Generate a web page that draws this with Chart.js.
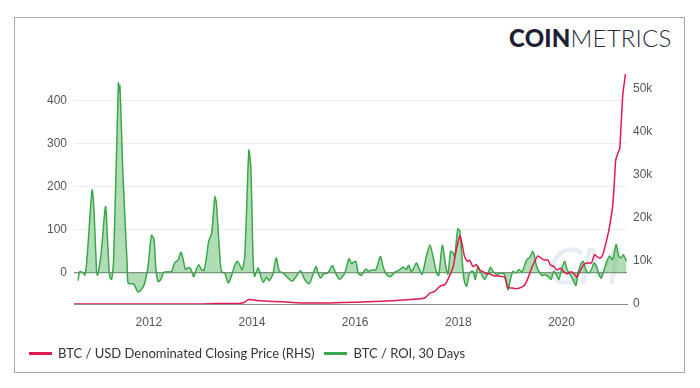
<!DOCTYPE html>
<html>
<head>
<meta charset="utf-8">
<script src="https://cdn.jsdelivr.net/npm/chart.js@4.4.1/dist/chart.umd.min.js"></script>
<style>
    body { margin: 0; background: #fff; }
    #wrap { position: relative; width: 700px; height: 388px; overflow: hidden; }
    #frame { position: absolute; left: 14px; top: 17px; width: 669px; height: 354px; border: 1.5px solid #a8a8a8; }
    #logo { position: absolute; left: 509px; top: 23px; font-family: Lato, sans-serif; font-size: 24px; color: #1d2030; letter-spacing: 0.2px; }
    #logo b { font-weight: 900; }
    #logo span { font-weight: 300; color: #2a2d3a; }
    #mark { position: absolute; left: 548px; top: 238px; font-family: "DejaVu Sans", sans-serif; font-size: 50px; font-style: italic; color: rgba(190, 200, 220, 0.35); letter-spacing: -4px; }
    #chart { position: absolute; left: 0; top: 0; }
    #legend { position: absolute; left: 29px; top: 345px; font-family: Lato, sans-serif; font-size: 13px; color: #333; display: flex; }
    #legend .item { display: flex; align-items: center; margin-right: 10px; }
    #legend .line { width: 23px; height: 3px; margin-right: 6px; }
</style>
</head>
<body>
<div id="wrap">
    <div id="frame"></div>
    <div id="logo"><b>COIN</b><span>METRICS</span></div>
    <div id="mark">CM</div>
    <canvas id="chart" width="700" height="388"></canvas>
    <div id="legend"></div>
</div>
<script>
    // BTC / USD closing price (right axis), x in decimal years
    let priceYears = [2010.55, 2011.0, 2011.45, 2012.0, 2012.5, 2013.0, 2013.3, 2013.5, 2013.75, 2013.86, 2013.93, 2014.09, 2014.41, 2014.75, 2015.0, 2015.5, 2016.0, 2016.5, 2016.93, 2017.2, 2017.35, 2017.45, 2017.54, 2017.64, 2017.74, 2017.81, 2017.90, 2017.96, 2018.03, 2018.07, 2018.12, 2018.18, 2018.22, 2018.28, 2018.35, 2018.41, 2018.48, 2018.54, 2018.61, 2018.67, 2018.74, 2018.84, 2018.90, 2018.96, 2019.03, 2019.13, 2019.22, 2019.29, 2019.35, 2019.42, 2019.48, 2019.54, 2019.61, 2019.67, 2019.74, 2019.78, 2019.85, 2019.91, 2019.98, 2020.04, 2020.11, 2020.19, 2020.26, 2020.30, 2020.37, 2020.43, 2020.49, 2020.58, 2020.64, 2020.69, 2020.75, 2020.80, 2020.87, 2020.93, 2020.99, 2021.02, 2021.05, 2021.10, 2021.13, 2021.16, 2021.19, 2021.24];
    let priceValues = [0.07, 0.3, 17, 5, 7, 13, 140, 100, 130, 400, 1050, 830, 600, 400, 260, 250, 430, 650, 900, 1150, 1400, 2500, 2900, 4100, 4500, 6000, 8700, 12500, 15800, 14100, 11000, 9800, 10200, 8700, 9100, 7900, 7500, 7000, 7000, 6600, 6500, 6400, 6200, 3850, 3700, 3550, 3850, 4450, 6000, 8300, 9850, 11150, 10600, 10200, 10200, 9100, 8700, 7900, 8300, 7500, 7000, 7500, 6800, 6200, 7900, 9100, 9500, 9500, 11400, 11000, 10600, 11400, 14500, 17900, 22500, 27200, 33300, 35200, 36000, 42600, 48700, 53300];

    // BTC ROI over 30 days (left axis)
    let roiYears = [2010.63, 2010.66, 2010.73, 2010.76, 2010.80, 2010.90, 2010.93, 2010.99, 2011.01, 2011.08, 2011.16, 2011.20, 2011.24, 2011.28, 2011.32, 2011.41, 2011.42, 2011.44, 2011.50, 2011.58, 2011.60, 2011.70, 2011.73, 2011.79, 2011.86, 2011.92, 2011.99, 2012.05, 2012.10, 2012.14, 2012.18, 2012.23, 2012.29, 2012.34, 2012.41, 2012.44, 2012.50, 2012.57, 2012.62, 2012.66, 2012.71, 2012.76, 2012.81, 2012.87, 2012.92, 2012.97, 2013.02, 2013.07, 2013.12, 2013.16, 2013.22, 2013.28, 2013.31, 2013.36, 2013.40, 2013.44, 2013.47, 2013.54, 2013.60, 2013.67, 2013.72, 2013.76, 2013.81, 2013.86, 2013.94, 2013.98, 2014.02, 2014.05, 2014.12, 2014.17, 2014.22, 2014.28, 2014.33, 2014.40, 2014.47, 2014.53, 2014.60, 2014.70, 2014.78, 2014.86, 2014.94, 2015.02, 2015.11, 2015.18, 2015.24, 2015.28, 2015.33, 2015.39, 2015.47, 2015.56, 2015.62, 2015.70, 2015.80, 2015.88, 2015.93, 2016.01, 2016.06, 2016.12, 2016.20, 2016.26, 2016.32, 2016.40, 2016.49, 2016.54, 2016.61, 2016.68, 2016.77, 2016.86, 2016.93, 2016.99, 2017.04, 2017.09, 2017.14, 2017.19, 2017.25, 2017.30, 2017.38, 2017.45, 2017.51, 2017.58, 2017.62, 2017.69, 2017.76, 2017.80, 2017.85, 2017.90, 2017.93, 2017.99, 2018.03, 2018.07, 2018.11, 2018.16, 2018.22, 2018.28, 2018.33, 2018.38, 2018.45, 2018.51, 2018.58, 2018.62, 2018.67, 2018.74, 2018.83, 2018.90, 2018.96, 2019.01, 2019.06, 2019.11, 2019.18, 2019.23, 2019.29, 2019.33, 2019.38, 2019.44, 2019.47, 2019.51, 2019.56, 2019.62, 2019.67, 2019.74, 2019.80, 2019.85, 2019.90, 2019.95, 2020.00, 2020.06, 2020.11, 2020.17, 2020.22, 2020.28, 2020.32, 2020.37, 2020.42, 2020.47, 2020.53, 2020.58, 2020.63, 2020.68, 2020.73, 2020.77, 2020.82, 2020.88, 2020.93, 2020.99, 2021.06, 2021.11, 2021.16, 2021.20, 2021.26];
    let roiValues = [-18, 3, 0, -5, 30, 192, 162, 0, -5, 50, 154, 77, -8, -15, 38, 440, 420, 435, 224, 22, -24, -25, -30, -44, -38, -24, 20, 87, 78, 6, -20, -16, 2, 2, 3, 2, 23, 30, 48, 35, 8, 12, 10, -9, 8, 19, 8, 6, 38, 73, 93, 176, 162, 69, 8, 0, 1, -23, -8, 19, 27, 19, 8, 38, 284, 239, 38, -8, 12, -8, -22, -10, -18, -5, 35, 4, 0, -12, -19, -8, 5, -15, -25, -4, 15, 0, -12, -2, 0, 17, 0, -15, 0, 33, 22, 27, 0, -6, 9, 4, 7, 7, 38, 15, -4, -9, 2, 7, 14, 8, 18, 2, 13, 23, 7, -3, 38, 65, 38, 0, -6, 64, 13, -3, 50, 46, 38, 102, 97, 38, -15, -31, 0, 4, -15, 15, -3, -15, 0, 13, 4, -4, 0, -4, -39, -15, 4, 0, 8, 2, 19, 31, 35, 50, 42, 19, 4, -6, -4, -8, -15, 4, -4, -15, 8, 27, 8, -4, -15, -29, 0, 19, 27, 8, 0, 8, 23, 15, -4, -12, 4, 27, 39, 31, 66, 39, 35, 42, 27];

    let yearTicks = [2012, 2014, 2016, 2018, 2020];
    let roiTicks = [0, 100, 200, 300, 400];
    let priceTicks = [0, 10000, 20000, 30000, 40000, 50000];

    let tickFont = { family: "Liberation Sans, Arial, sans-serif", size: 12 };

    let chart = new Chart(document.getElementById("chart").getContext("2d"), {
        type: "line",
        data: {
            datasets: [{
                label: "BTC / USD Denominated Closing Price (RHS)",
                data: priceYears.map((x, i) => ({ x: x, y: priceValues[i] })),
                yAxisID: "yR",
                borderColor: "#e01a4f",
                borderWidth: 1.5,
                pointRadius: 0,
                tension: 0.15,
                fill: false
            }, {
                label: "BTC / ROI, 30 Days",
                data: roiYears.map((x, i) => ({ x: x, y: roiValues[i] })),
                yAxisID: "yL",
                borderColor: "#3ca64c",
                backgroundColor: "rgba(80, 180, 90, 0.45)",
                borderWidth: 1.5,
                pointRadius: 0,
                tension: 0.25,
                fill: "origin"
            }]
        },
        options: {
            responsive: false,
            animation: false,
            layout: { padding: { left: 20, right: 33, top: 68, bottom: 54 } },
            plugins: { legend: { display: false }, tooltip: { enabled: false } },
            scales: {
                x: {
                    type: "linear",
                    min: 2010.55,
                    max: 2021.27,
                    afterBuildTicks: axis => { axis.ticks = yearTicks.map(v => ({ value: v })); },
                    afterFit: axis => { axis.height = 30; },
                    ticks: { callback: v => String(v), font: tickFont, color: "#555", padding: 3, maxRotation: 0 },
                    grid: { display: false },
                    border: { color: "#8a8a8a", width: 1 }
                },
                yL: {
                    position: "left",
                    min: -72,
                    max: 475,
                    afterBuildTicks: axis => { axis.ticks = roiTicks.map(v => ({ value: v })); },
                    afterFit: axis => { axis.width = 54; },
                    ticks: { font: tickFont, color: "#555", padding: 7 },
                    grid: {
                        drawTicks: false,
                        color: ctx => ctx.tick && ctx.tick.value === 0 ? "#888" : "#eeeeee",
                        lineWidth: ctx => ctx.tick && ctx.tick.value === 0 ? 1.2 : 1
                    },
                    border: { display: false }
                },
                yR: {
                    position: "right",
                    min: 0,
                    max: 54700,
                    afterBuildTicks: axis => { axis.ticks = priceTicks.map(v => ({ value: v })); },
                    afterFit: axis => { axis.width = 40; },
                    ticks: { font: tickFont, color: "#555", padding: 6, callback: v => v === 0 ? "0" : (v / 1000) + "k" },
                    grid: { display: false, drawTicks: false },
                    border: { display: false }
                }
            }
        }
    });

    // legend built from the chart's datasets
    let legend = document.getElementById("legend");
    chart.data.datasets.forEach(ds => {
        let item = document.createElement("div");
        item.className = "item";
        item.innerHTML = `<div class="line" style="background:${ds.borderColor}"></div><div>${ds.label}</div>`;
        legend.appendChild(item);
    });
</script>
</body>
</html>
